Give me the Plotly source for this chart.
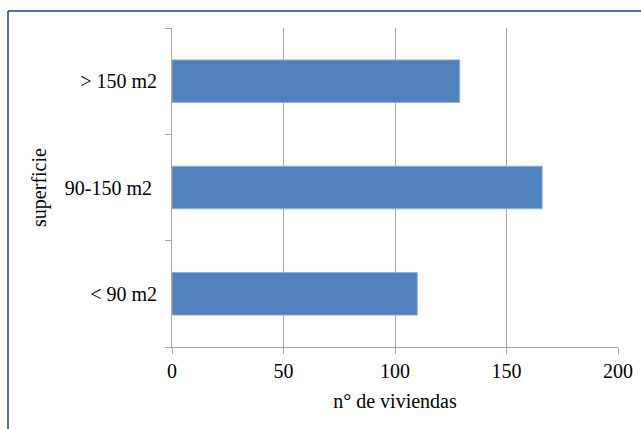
import plotly.graph_objects as go

# Dwellings by floor area
categories = ["< 90 m2", "90-150 m2\u00a0", "> 150 m2"]
viviendas = [110, 166, 129]
x_ticks = [0, 50, 100, 150, 200]

W, H = 641, 429
L, R, T, B = 172, 23, 28, 82
pw, ph = W - L - R, H - T - B

serif = "Liberation Serif, Times New Roman, serif"
grid = "#A6A6A6"
frame = "#1F3A7D"
label_font = dict(family=serif, size=20, color="#000000")

fig = go.Figure(
    go.Bar(
        x=viviendas,
        y=categories,
        orientation="h",
        marker=dict(color="#4F81BD", line=dict(color="#8FB0DA", width=1)),
        width=0.4,
    )
)

# outer chart frame (top and left edges visible)
fx = (8 - L) / pw
fy = 1 + (T - 11) / ph
fig.add_shape(type="line", xref="paper", yref="paper", x0=fx, x1=1 + R / pw + 0.05,
              y0=fy, y1=fy, line=dict(color=frame, width=1.5))
fig.add_shape(type="line", xref="paper", yref="paper", x0=fx, x1=fx,
              y0=fy, y1=-B / ph - 0.05, line=dict(color=frame, width=1.5))

fig.update_layout(
    width=W,
    height=H,
    margin=dict(l=L, r=R, t=T, b=B, pad=0, autoexpand=False),
    paper_bgcolor="white",
    plot_bgcolor="white",
    showlegend=False,
    font=label_font,
    xaxis=dict(
        range=[0, 200],
        tickvals=x_ticks,
        automargin=False,
        showgrid=True,
        gridcolor=grid,
        gridwidth=1,
        zeroline=False,
        showline=True,
        linecolor=grid,
        linewidth=1,
        ticks="outside",
        ticklen=6,
        tickcolor=grid,
        tickfont=label_font,
        title=dict(text="n° de viviendas", font=label_font, standoff=12),
    ),
    yaxis=dict(
        type="category",
        range=[-0.5, 2.5],
        automargin=False,
        tickson="boundaries",
        showgrid=False,
        zeroline=False,
        showline=True,
        linecolor=grid,
        linewidth=1,
        ticks="outside",
        ticklen=6,
        tickcolor=grid,
        ticklabelstandoff=10,
        tickfont=label_font,
        title=dict(text="superficie", font=label_font, standoff=12),
    ),
)

fig.write_html("out.html")
